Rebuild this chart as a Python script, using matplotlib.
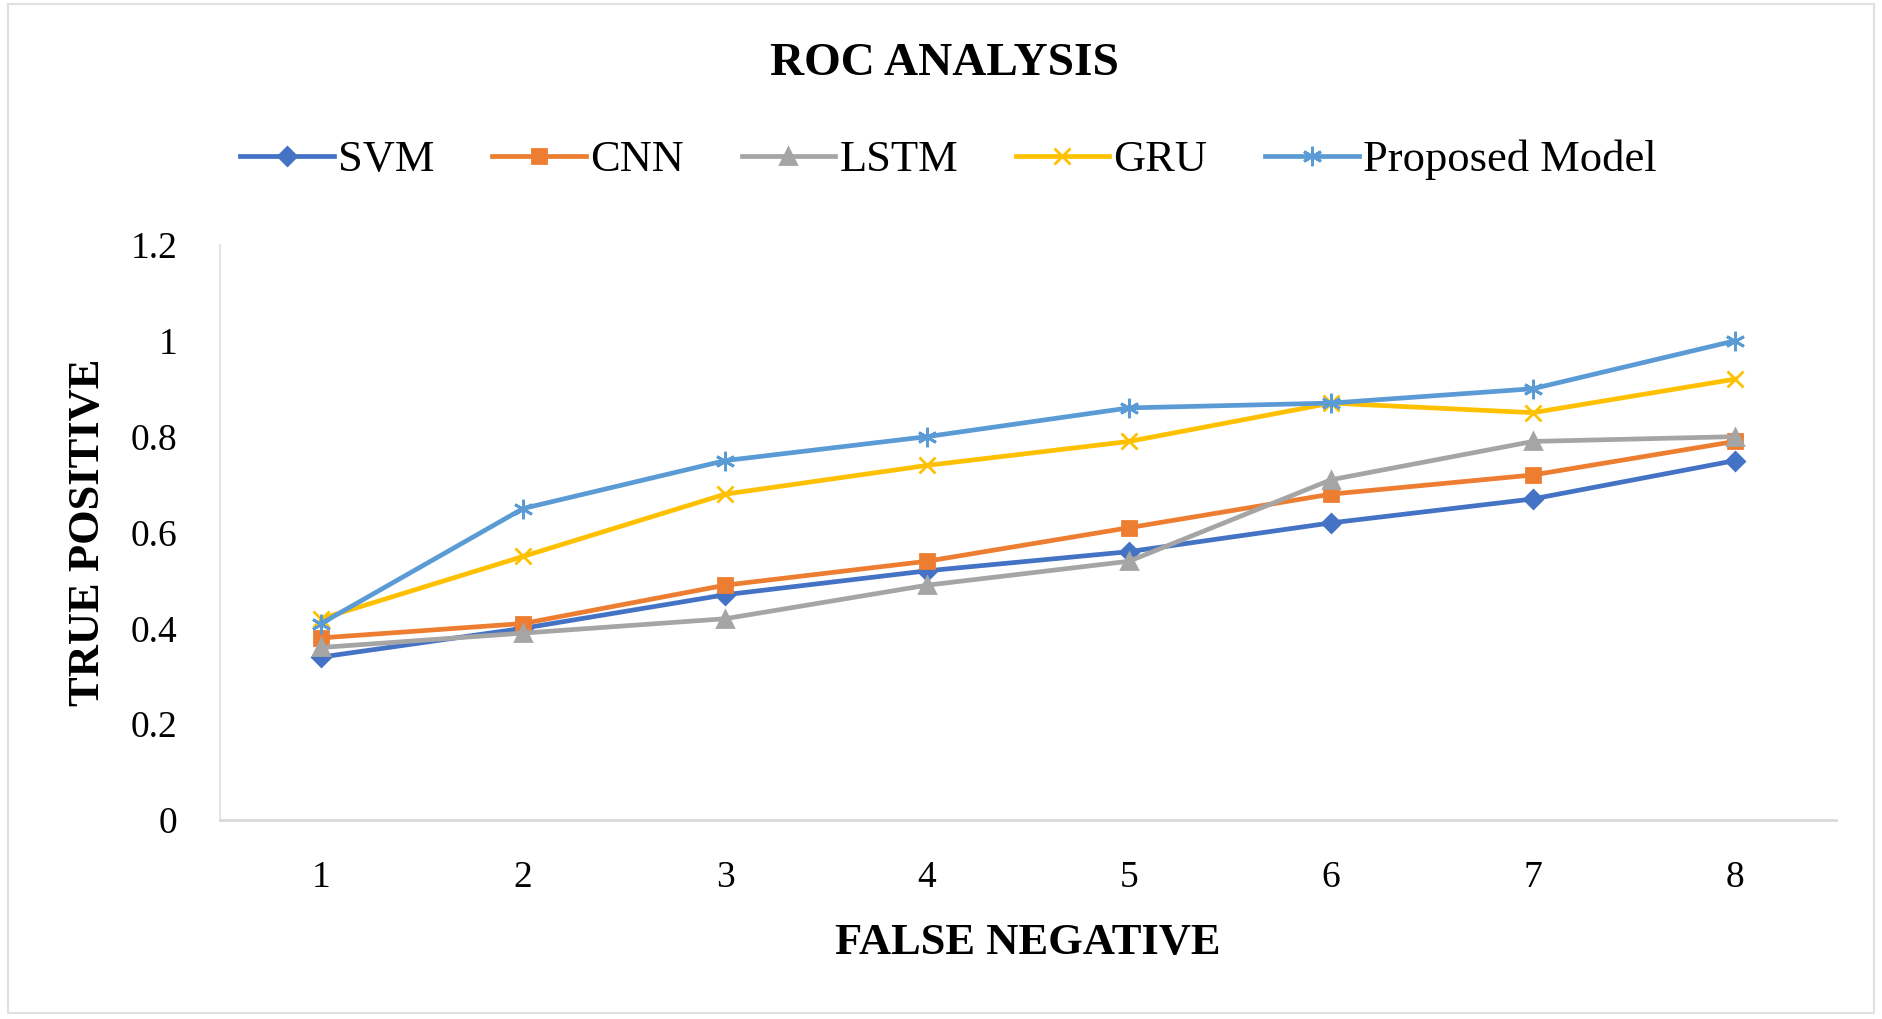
import numpy as np
import matplotlib
matplotlib.use("Agg")
import matplotlib.pyplot as plt
from matplotlib.patches import Rectangle

# data
fn = ["1", "2", "3", "4", "5", "6", "7", "8"]
svm = [0.34, 0.40, 0.47, 0.52, 0.56, 0.62, 0.67, 0.75]
cnn = [0.38, 0.41, 0.49, 0.54, 0.61, 0.68, 0.72, 0.79]
lstm = [0.36, 0.39, 0.42, 0.49, 0.54, 0.71, 0.79, 0.80]
gru = [0.42, 0.55, 0.68, 0.74, 0.79, 0.87, 0.85, 0.92]
proposed = [0.41, 0.65, 0.75, 0.80, 0.86, 0.87, 0.90, 1.00]
yticks = [0, 0.2, 0.4, 0.6, 0.8, 1, 1.2]
ytick_labels = ["0", "0.2", "0.4", "0.6", "0.8", "1", "1.2"]

plt.rcParams['font.family'] = ['Liberation Serif', 'DejaVu Serif']

fig = plt.figure(figsize=(18.82, 10.19), dpi=100)
ax = fig.add_axes([0.117, 0.1953, 0.8585, 0.5643])

x = np.arange(1, len(fn) + 1)
series = [
    ("SVM", svm, "#4472C4", "D", 9),
    ("CNN", cnn, "#ED7D31", "s", 10),
    ("LSTM", lstm, "#A5A5A5", "^", 11),
    ("GRU", gru, "#FFC000", "x", 11),
    ("Proposed Model", proposed, "#5B9BD5", (6, 2, 0), 14),
]
for name, vals, col, mk, ms in series:
    ax.plot(x, vals, color=col, lw=3.4, marker=mk, markersize=ms,
            markeredgewidth=2, label=name)

ax.set_xlim(0.5, len(fn) + 0.5)
ax.set_ylim(0, 1.2)
ax.set_xticks(x)
ax.set_xticklabels(fn)
ax.set_yticks(yticks)
ax.set_yticklabels(ytick_labels)
ax.tick_params(length=0, labelsize=27)
ax.tick_params(axis='x', pad=29)
ax.tick_params(axis='y', pad=31)
for s in ["top", "right"]:
    ax.spines[s].set_visible(False)
ax.spines["bottom"].set_color("#d9d9d9")
ax.spines["bottom"].set_linewidth(2)
ax.spines["left"].set_color("#e6e6e6")
ax.spines["left"].set_linewidth(1.5)

ax.set_xlabel("FALSE NEGATIVE", fontsize=32, fontweight="bold", labelpad=20)
ax.set_ylabel("TRUE POSITIVE", fontsize=32, fontweight="bold", labelpad=16)

fig.text(0.502, 0.937, "ROC ANALYSIS", ha="center", va="center",
         fontsize=34, fontweight="bold")

handles, labels = ax.get_legend_handles_labels()
fig.legend(handles, labels, loc="center", bbox_to_anchor=(0.504, 0.843),
           ncol=5, frameon=False, fontsize=32, handlelength=2.1,
           handletextpad=0.1, columnspacing=1.3)

# light outer frame like the exported chart
fig.patches.append(Rectangle((0.004, 0.006), 0.992, 0.99, transform=fig.transFigure,
                             fill=False, edgecolor="#e0e0e0", lw=1.5))

fig.savefig("out.png", dpi=100)
